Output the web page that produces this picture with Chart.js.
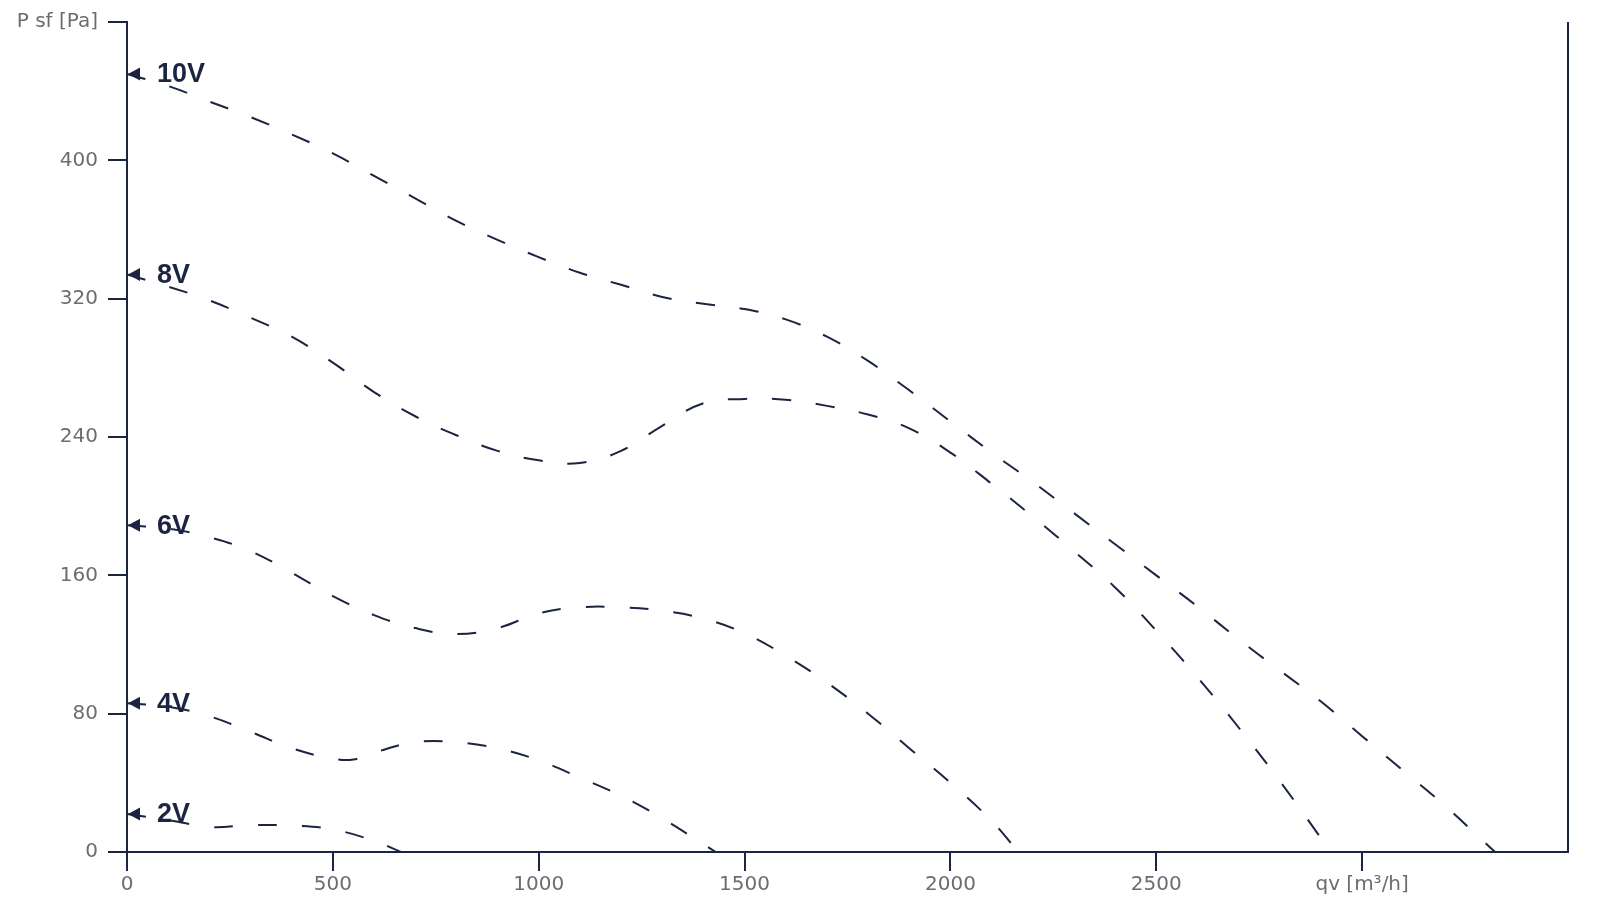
<!DOCTYPE html>
<html>
<head>
<meta charset="utf-8">
<script src="https://cdn.jsdelivr.net/npm/chart.js@4.4.1/dist/chart.umd.min.js"></script>
<style>
  html, body { margin: 0; padding: 0; background: #fff; }
  #wrap { width: 1614px; height: 902px; position: relative; }
</style>
</head>
<body>
<div id="wrap"><canvas id="fanChart"></canvas></div>
<script>
// fan curves: airflow qv [m3/h] vs static pressure P sf [Pa]
const q10V = [0, 100, 200, 300, 400, 500, 600, 700, 800, 900, 1000, 1100, 1200, 1300, 1400, 1500, 1600, 1700, 1800, 1900, 2000, 2100, 2200, 2300, 2400, 2500, 2600, 2700, 2800, 2900, 3000, 3100, 3200, 3300, 3323];
const p10V = [450, 443, 434, 425, 415, 404, 391, 378, 365, 354, 344, 335, 328, 321, 317, 314, 308, 298, 284, 267, 249, 231, 214, 196, 178, 160, 142, 123, 105, 87, 67, 47, 27, 5, 0];

const q8V = [0, 100, 200, 300, 400, 500, 600, 700, 800, 900, 1000, 1100, 1200, 1300, 1400, 1500, 1600, 1700, 1800, 1900, 2000, 2100, 2200, 2300, 2400, 2500, 2600, 2700, 2800, 2900, 2922];
const p8V = [334, 327, 319, 309, 298, 283, 266, 252, 241, 232, 226.5, 225, 232, 246.5, 259.5, 262, 261.5, 258, 253, 245, 231, 213, 194, 174, 153, 128, 101, 72, 41, 8, 0];

const q6V = [0, 100, 200, 300, 400, 500, 600, 700, 800, 900, 1000, 1100, 1200, 1300, 1400, 1500, 1600, 1700, 1800, 1900, 2000, 2100, 2165];
const p6V = [189, 187, 182, 174, 161.5, 148, 137, 129.5, 126, 129.5, 138, 141.5, 141.5, 139.5, 135, 126.5, 113.5, 98, 80, 60, 40, 18, 0];

const q4V = [0, 100, 200, 300, 400, 500, 550, 600, 700, 800, 900, 1000, 1100, 1200, 1300, 1400, 1430];
const p4V = [86, 84, 78.5, 69.5, 60, 54, 53.5, 57.5, 63.5, 63.5, 60, 53, 43, 32.5, 19.5, 4.5, 0];

const q2V = [0, 100, 200, 300, 400, 500, 600, 665];
const p2V = [22, 18.5, 14.5, 15.5, 15.3, 13, 6.5, 0];

const curveLabels = ["10V", "8V", "6V", "4V", "2V"];
const curveFlows = [q10V, q8V, q6V, q4V, q2V];
const curvePressures = [p10V, p8V, p6V, p4V, p2V];

const xTicks = [0, 500, 1000, 1500, 2000, 2500, 3000];
const yTicks = [0, 80, 160, 240, 320, 400, 480];
const xTitle = "qv [m³/h]";
const yTitle = "P sf [Pa]";

const NAVY = "#1b2441";
const GREY = "#6d6d6d";

const datasets = curveLabels.map((name, i) => ({
    label: name,
    data: curveFlows[i].map((q, k) => ({ x: q, y: curvePressures[i][k] })),
    borderColor: NAVY,
    borderWidth: 2,
    borderDash: [19, 25],
    pointRadius: 0,
    tension: 0.4,
    fill: false
}));

// arrow head at the start of each curve + the voltage label
const curveTags = {
    id: "curveTags",
    afterDatasetsDraw(chart) {
        const ctx = chart.ctx;
        const xs = chart.scales.x, ys = chart.scales.y;
        ctx.save();
        chart.data.datasets.forEach(ds => {
            const first = ds.data[0];
            const px = xs.getPixelForValue(first.x);
            const py = ys.getPixelForValue(first.y);
            ctx.fillStyle = NAVY;
            ctx.beginPath();
            ctx.moveTo(px + 1, py);
            ctx.lineTo(px + 13, py - 6.5);
            ctx.lineTo(px + 13, py + 6.5);
            ctx.closePath();
            ctx.fill();
            ctx.font = "bold 27px 'Liberation Sans', Arial, sans-serif";
            ctx.textAlign = "left";
            ctx.textBaseline = "middle";
            ctx.fillText(ds.label, px + 30, py + 1);
        });
        // right frame line
        const a = chart.chartArea;
        ctx.strokeStyle = NAVY;
        ctx.lineWidth = 2;
        ctx.beginPath();
        ctx.moveTo(a.right, a.top);
        ctx.lineTo(a.right, a.bottom);
        ctx.stroke();
        ctx.restore();
    }
};

new Chart(document.getElementById("fanChart"), {
    type: "line",
    data: { datasets: datasets },
    options: {
        responsive: true,
        maintainAspectRatio: false,
        animation: false,
        layout: { padding: { top: 20, right: 46, left: 0, bottom: 0 } },
        plugins: { legend: { display: false }, tooltip: { enabled: false } },
        scales: {
            x: {
                type: "linear",
                min: 0,
                max: 3500,
                afterBuildTicks: s => { s.ticks = xTicks.map(v => ({ value: v })); },
                afterFit: s => { s.height = 50; },
                ticks: {
                    color: GREY,
                    padding: 2,
                    maxRotation: 0,
                    font: { family: "'DejaVu Sans'", size: 20 },
                    callback: v => v === 3000 ? xTitle : v
                },
                grid: { drawOnChartArea: false, drawTicks: true, tickLength: 19, color: NAVY, lineWidth: 2 },
                border: { display: true, color: NAVY, width: 2 }
            },
            y: {
                min: 0,
                max: 480,
                afterBuildTicks: s => { s.ticks = yTicks.map(v => ({ value: v })); },
                afterFit: s => { s.width = 127; },
                ticks: {
                    color: GREY,
                    padding: 10,
                    font: { family: "'DejaVu Sans'", size: 20 },
                    callback: v => v === 480 ? yTitle : v
                },
                grid: { drawOnChartArea: false, drawTicks: true, tickLength: 19, color: NAVY, lineWidth: 2 },
                border: { display: true, color: NAVY, width: 2 }
            }
        }
    },
    plugins: [curveTags]
});
</script>
</body>
</html>
